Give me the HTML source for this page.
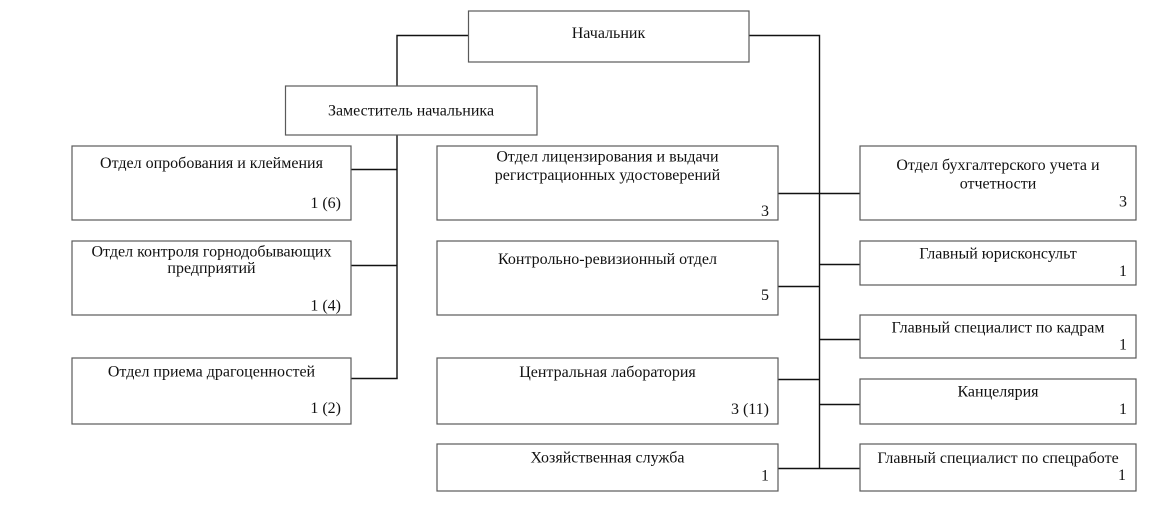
<!DOCTYPE html>
<html>
<head>
<meta charset="utf-8">
<style>
html,body{margin:0;padding:0;background:#fff;}
svg{display:block;}
text{font-family:"Liberation Serif","Noto Serif CJK SC",serif;font-size:16px;fill:#111;}
.b{fill:#fff;stroke:#5a5a5a;stroke-width:1.2;}
.c{fill:none;stroke:#111;stroke-width:1.4;}
</style>
</head>
<body>
<svg width="1153" height="512" viewBox="0 0 1153 512" xmlns="http://www.w3.org/2000/svg">
<!-- connectors -->
<polyline class="c" points="468,35.5 397,35.5 397,86"/>
<line class="c" x1="397" y1="135" x2="397" y2="378.5"/>
<line class="c" x1="351" y1="169.5" x2="397" y2="169.5"/>
<line class="c" x1="351" y1="265.5" x2="397" y2="265.5"/>
<line class="c" x1="351" y1="378.5" x2="397.7" y2="378.5"/>

<polyline class="c" points="749,35.5 819.5,35.5 819.5,468.5"/>
<line class="c" x1="778" y1="193.5" x2="860" y2="193.5"/>
<line class="c" x1="778" y1="286.5" x2="819.5" y2="286.5"/>
<line class="c" x1="778" y1="379.5" x2="819.5" y2="379.5"/>
<line class="c" x1="778" y1="468.5" x2="860" y2="468.5"/>
<line class="c" x1="819.5" y1="264.5" x2="860" y2="264.5"/>
<line class="c" x1="819.5" y1="339.5" x2="860" y2="339.5"/>
<line class="c" x1="819.5" y1="404.5" x2="860" y2="404.5"/>

<!-- top boxes -->
<rect class="b" x="468.5" y="11" width="280.5" height="51"/>
<text x="608.5" y="38" text-anchor="middle">Начальник</text>

<rect class="b" x="285.5" y="86" width="251.5" height="49"/>
<text x="411" y="115.5" text-anchor="middle">Заместитель начальника</text>

<!-- left column -->
<rect class="b" x="72" y="146" width="279" height="74"/>
<text x="211.5" y="168" text-anchor="middle">Отдел опробования и клеймения</text>
<text x="341" y="208" text-anchor="end">1 (6)</text>

<rect class="b" x="72" y="241" width="279" height="74"/>
<text x="211.5" y="256.5" text-anchor="middle">Отдел контроля горнодобывающих</text>
<text x="211.5" y="273" text-anchor="middle">предприятий</text>
<text x="341" y="310.5" text-anchor="end">1 (4)</text>

<rect class="b" x="72" y="358" width="279" height="66"/>
<text x="211.5" y="376.5" text-anchor="middle">Отдел приема драгоценностей</text>
<text x="341" y="413" text-anchor="end">1 (2)</text>

<!-- middle column -->
<rect class="b" x="437" y="146" width="341" height="74"/>
<text x="607.5" y="161.5" text-anchor="middle">Отдел лицензирования и выдачи</text>
<text x="607.5" y="180" text-anchor="middle">регистрационных удостоверений</text>
<text x="769" y="216" text-anchor="end">3</text>

<rect class="b" x="437" y="241" width="341" height="74"/>
<text x="607.5" y="264" text-anchor="middle">Контрольно-ревизионный отдел</text>
<text x="769" y="300" text-anchor="end">5</text>

<rect class="b" x="437" y="358" width="341" height="66"/>
<text x="607.5" y="377" text-anchor="middle">Центральная лаборатория</text>
<text x="769" y="414" text-anchor="end">3 (11)</text>

<rect class="b" x="437" y="444" width="341" height="47"/>
<text x="607.5" y="462.5" text-anchor="middle">Хозяйственная служба</text>
<text x="769" y="480.5" text-anchor="end">1</text>

<!-- right column -->
<rect class="b" x="860" y="146" width="276" height="74"/>
<text x="998" y="170" text-anchor="middle">Отдел бухгалтерского учета и</text>
<text x="998" y="188.5" text-anchor="middle">отчетности</text>
<text x="1127" y="206.5" text-anchor="end">3</text>

<rect class="b" x="860" y="241" width="276" height="44"/>
<text x="998" y="258.5" text-anchor="middle">Главный юрисконсульт</text>
<text x="1127" y="276" text-anchor="end">1</text>

<rect class="b" x="860" y="315" width="276" height="43"/>
<text x="998" y="332.5" text-anchor="middle">Главный специалист по кадрам</text>
<text x="1127" y="349.5" text-anchor="end">1</text>

<rect class="b" x="860" y="379" width="276" height="45"/>
<text x="998" y="396.5" text-anchor="middle">Канцелярия</text>
<text x="1127" y="414" text-anchor="end">1</text>

<rect class="b" x="860" y="444" width="276" height="47"/>
<text x="998" y="463" text-anchor="middle">Главный специалист по спецработе</text>
<text x="1126" y="480" text-anchor="end">1</text>
</svg>
</body>
</html>
